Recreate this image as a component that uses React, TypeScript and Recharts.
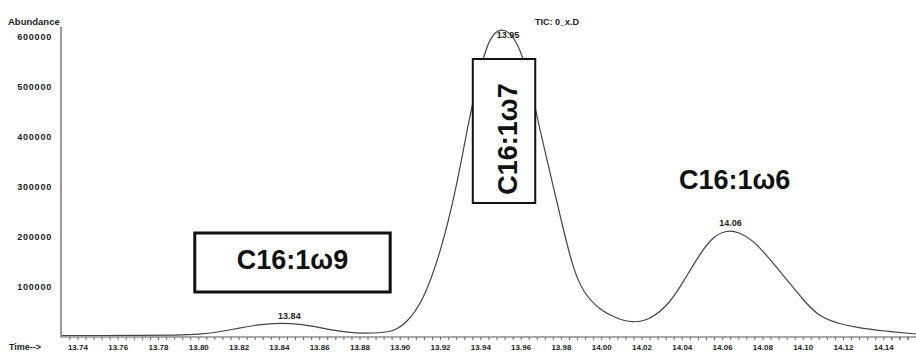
import React from 'react';
import { LineChart, Line, XAxis, YAxis, ReferenceArea, ReferenceDot } from 'recharts';

// retention time (min) and abundance
const times = [
  13.732, 13.75, 13.77, 13.79, 13.8, 13.81, 13.82, 13.83, 13.84, 13.85,
  13.86, 13.87, 13.88, 13.89, 13.897, 13.903, 13.911, 13.92, 13.928, 13.934,
  13.941, 13.945, 13.95, 13.955, 13.96, 13.964, 13.969, 13.976, 13.981, 13.986,
  13.991, 13.999, 14.007, 14.015, 14.024, 14.034, 14.041, 14.049, 14.055, 14.062,
  14.068, 14.075, 14.083, 14.092, 14.1, 14.108, 14.118, 14.128, 14.14, 14.156,
];
const abundance = [
  3000, 3000, 3000, 3500, 5000, 10000, 18000, 25000, 28000, 26000,
  19000, 11000, 7000, 8000, 12000, 28000, 68000, 168000, 300000, 434000,
  560000, 602000, 618000, 608000, 572000, 514000, 420000, 300000, 214000, 134000,
  88000, 54000, 38000, 28000, 34000, 68000, 114000, 168000, 200000, 214000,
  210000, 194000, 158000, 114000, 74000, 40000, 26000, 18000, 12000, 6000,
];

const xMajorTicks = [
  13.74, 13.76, 13.78, 13.8, 13.82, 13.84, 13.86, 13.88, 13.9, 13.92, 13.94,
  13.96, 13.98, 14.0, 14.02, 14.04, 14.06, 14.08, 14.1, 14.12, 14.14,
];
const yTicks = [100000, 200000, 300000, 400000, 500000, 600000];

// peak apex labels
const peakTimes = [13.84, 13.95, 14.06];
const peakValues = [28000, 616000, 214000];
const peakLabels = ['13.84', '13.95', '14.06'];

const data = times.map((t, i) => ({ t, v: abundance[i] }));

// minor ticks: 5 per labelled interval
const allTicks: number[] = [];
for (let i = 0; i < xMajorTicks.length; i++) {
  for (let k = -1; k < 4; k++) {
    allTicks.push(+(xMajorTicks[i] + k * 0.004).toFixed(3));
  }
}
allTicks.push(14.144, 14.148, 14.152);

const FONT = '"Liberation Sans", Arial, sans-serif';

const XTick = (props: any) => {
  const { x, y, payload } = props;
  const isMajor = xMajorTicks.some(m => Math.abs(m - payload.value) < 1e-6);
  if (!isMajor) return null;
  return (
    <text x={x} y={y + 8} textAnchor="middle" fontSize={8} fontWeight="bold" fill="#222" fontFamily={FONT}>
      {payload.value.toFixed(2)}
    </text>
  );
};

const centerOf = (vb: any) => ({
  cx: vb.cx ?? vb.x + (vb.width || 0) / 2,
  cy: vb.cy ?? vb.y + (vb.height || 0) / 2,
});

const boxLabel = (text: string, rotate: boolean, dx: number, dy: number) => (props: any) => {
  const c = centerOf(props.viewBox);
  const cx = c.cx + dx;
  const cy = c.cy + dy;
  return (
    <text
      x={cx}
      y={cy}
      textAnchor="middle"
      dominantBaseline="central"
      transform={rotate ? `rotate(-90 ${cx} ${cy})` : undefined}
      fontSize={27}
      fontWeight="bold"
      fill="#111"
      fontFamily={FONT}
    >
      {text}
    </text>
  );
};

const peakLabel = (text: string, dx: number, dy: number) => (props: any) => {
  const c = centerOf(props.viewBox);
  return (
    <text x={c.cx + dx} y={c.cy + dy} textAnchor="middle" fontSize={9} fontWeight="bold" fill="#222" fontFamily={FONT}>
      {text}
    </text>
  );
};

const peakOffsets = [
  [10, -4],
  [7, 9],
  [8, -4],
];

export default function App() {
  return (
    <div style={{ position: 'absolute', left: 0, top: 0, width: 916, height: 355, background: '#fff' }}>
      <LineChart width={916} height={355} data={data} margin={{ top: 27, right: 0, bottom: 0, left: 0 }}>
        <XAxis
          dataKey="t"
          type="number"
          domain={[13.7316, 14.156]}
          ticks={allTicks}
          interval={0}
          tick={<XTick />}
          tickSize={3}
          tickMargin={2}
          height={18}
          axisLine={{ stroke: '#555', strokeWidth: 1.2 }}
          tickLine={{ stroke: '#666', strokeWidth: 1 }}
          allowDataOverflow
        />
        <YAxis
          type="number"
          domain={[0, 620000]}
          ticks={yTicks}
          interval={0}
          width={61}
          tickLine={false}
          tickMargin={3}
          axisLine={{ stroke: '#555', strokeWidth: 1.2 }}
          tick={{ fontSize: 9, fontWeight: 'bold', fill: '#222', fontFamily: FONT, letterSpacing: 0.8 }}
        />
        <Line
          type="basis"
          dataKey="v"
          stroke="#444"
          strokeWidth={1.2}
          dot={false}
          isAnimationActive={false}
        />
        {peakTimes.map((t, i) => (
          <ReferenceDot
            key={`peak-${i}`}
            x={t}
            y={peakValues[i]}
            r={0}
            stroke="none"
            fill="none"
            label={{ content: peakLabel(peakLabels[i], peakOffsets[i][0], peakOffsets[i][1]) }}
          />
        ))}
        <ReferenceArea
          x1={13.798}
          x2={13.895}
          y1={90000}
          y2={208000}
          fill="#fff"
          fillOpacity={1}
          stroke="#111"
          strokeWidth={3}
          zIndex={1500}
          label={{ content: boxLabel('C16:1ω9', false, 0, -3) }}
        />
        <ReferenceArea
          x1={13.936}
          x2={13.967}
          y1={268000}
          y2={556000}
          fill="#fff"
          fillOpacity={1}
          stroke="#111"
          strokeWidth={2}
          zIndex={1500}
          label={{ content: boxLabel('C16:1ω7', true, 4, 8) }}
        />
        <ReferenceDot
          x={14.066}
          y={314000}
          r={0}
          stroke="none"
          fill="none"
          label={{ content: boxLabel('C16:1ω6', false, 0, 0) }}
        />
      </LineChart>
      <svg
        width={916}
        height={355}
        style={{ position: 'absolute', left: 0, top: 0, pointerEvents: 'none' }}
      >
        <text x={8} y={25} fontSize={9.5} fontWeight="bold" fill="#222" fontFamily={FONT}>
          Abundance
        </text>
        <text x={9} y={350} fontSize={9} fontWeight="bold" fill="#222" fontFamily={FONT}>
          Time--&gt;
        </text>
        <text x={535} y={25} fontSize={9} fontWeight="bold" fill="#222" fontFamily={FONT}>
          TIC: 0_x.D
        </text>
      </svg>
    </div>
  );
}
